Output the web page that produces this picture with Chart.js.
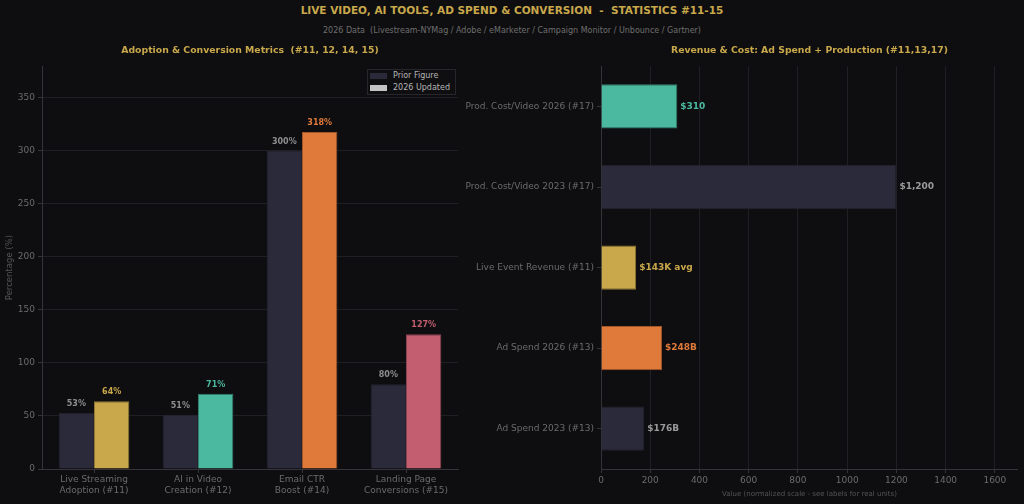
<!DOCTYPE html>
<html>
<head>
<meta charset="utf-8">
<script src="https://cdn.jsdelivr.net/npm/chart.js@4.4.1/dist/chart.umd.min.js"></script>
<style>
  html, body { margin: 0; padding: 0; background: #0e0e10; }
  body { width: 1024px; height: 504px; position: relative; overflow: hidden; font-family: "DejaVu Sans", sans-serif; }
  .title { position: absolute; left: 0; width: 1024px; text-align: center; }
  #mainTitle { top: 4px; color: #c8a84b; font-weight: bold; font-size: 10.5px; }
  #subTitle { top: 26px; color: #6e6e6e; font-size: 8px; }
  .box { position: absolute; top: 40px; height: 464px; }
  #leftBox { left: 0; width: 462px; }
  #rightBox { left: 465px; width: 553px; }
  #legend { position: absolute; left: 367px; top: 69px; width: 87px; height: 24px; padding: 0; border: 1px solid #26262c; background: #0f0f12; font-size: 8px; color: #b5b5b5; }
  #legend div { height: 12px; line-height: 12px; white-space: nowrap; }
  #legend span { display: inline-block; width: 17px; height: 6px; margin: 0 6px 0 2px; vertical-align: middle; }
</style>
</head>
<body>
<div class="title" id="mainTitle">LIVE VIDEO, AI TOOLS, AD SPEND &amp; CONVERSION &nbsp;- &nbsp;STATISTICS #11-15</div>
<div class="title" id="subTitle">2026 Data &nbsp;(Livestream-NYMag / Adobe / eMarketer / Campaign Monitor / Unbounce / Gartner)</div>
<div class="box" id="leftBox"><canvas id="leftChart"></canvas></div>
<div class="box" id="rightBox"><canvas id="rightChart"></canvas></div>
<div id="legend">
  <div><span style="background:#2b2a3a"></span>Prior Figure</div>
  <div><span style="background:#c4c4c4"></span>2026 Updated</div>
</div>
<script>
// left panel data
const leftCategories = [['Live Streaming', 'Adoption (#11)'], ['AI in Video', 'Creation (#12)'], ['Email CTR', 'Boost (#14)'], ['Landing Page', 'Conversions (#15)']];
const priorValues = [53, 51, 300, 80];
const updatedValues = [64, 71, 318, 127];
const updatedColors = ['#c8a84b', '#4bb9a0', '#e07a3b', '#c25e6f'];
const updatedBorders = ['#8f7836', '#357f6f', '#a0572a', '#8a4350'];
const leftTickValues = [0, 50, 100, 150, 200, 250, 300, 350];

// right panel data
const rightCategories = ['Prod. Cost/Video 2026 (#17)', 'Prod. Cost/Video 2023 (#17)', 'Live Event Revenue (#11)', 'Ad Spend 2026 (#13)', 'Ad Spend 2023 (#13)'];
const rightValues = [310, 1200, 143, 248, 176];
const rightLabels = ['$310', '$1,200', '$143K avg', '$248B', '$176B'];
const rightColors = ['#4bb9a0', '#2b2a3a', '#c8a84b', '#e07a3b', '#2b2a3a'];
const rightBorders = ['#357f6f', '#24232f', '#8f7836', '#a0572a', '#24232f'];
const rightLabelColors = ['#4bb9a0', '#9a9a9a', '#c8a84b', '#e07a3b', '#9a9a9a'];
const rightTickValues = [0, 200, 400, 600, 800, 1000, 1200, 1400, 1600];

const priorColor = '#2b2a3a';
const gridColor = '#1f1f25';
const spineColor = '#34343a';
const tickColor = '#6b6b6b';
const gold = '#c8a84b';

Chart.defaults.font.family = '"DejaVu Sans", sans-serif';
Chart.defaults.animation = false;

const leftLabels = {
  id: 'leftLabels',
  afterDatasetsDraw(chart) {
    const ctx = chart.ctx;
    ctx.save();
    ctx.font = 'bold 8px "DejaVu Sans"';
    ctx.textAlign = 'center';
    ctx.textBaseline = 'bottom';
    chart.data.datasets.forEach((ds, di) => {
      chart.getDatasetMeta(di).data.forEach((bar, i) => {
        ctx.fillStyle = di === 0 ? '#8e8e8e' : updatedColors[i];
        ctx.fillText(ds.data[i] + '%', bar.x, bar.y - 5);
      });
    });
    ctx.restore();
  }
};

const rightValueLabels = {
  id: 'rightValueLabels',
  afterDatasetsDraw(chart) {
    const ctx = chart.ctx;
    ctx.save();
    ctx.font = 'bold 9px "DejaVu Sans"';
    ctx.textAlign = 'left';
    ctx.textBaseline = 'middle';
    chart.getDatasetMeta(0).data.forEach((bar, i) => {
      ctx.fillStyle = rightLabelColors[i];
      ctx.fillText(rightLabels[i], bar.x + 3, bar.y);
    });
    ctx.restore();
  }
};

new Chart(document.getElementById('leftChart'), {
  type: 'bar',
  data: {
    labels: leftCategories,
    datasets: [
      {
        label: 'Prior Figure',
        data: priorValues,
        backgroundColor: priorColor,
        borderColor: '#24232f',
        borderWidth: 1,
        categoryPercentage: 0.68,
        barPercentage: 1,
      },
      {
        label: '2026 Updated',
        data: updatedValues,
        backgroundColor: updatedColors,
        borderColor: updatedBorders,
        borderWidth: 1,
        categoryPercentage: 0.68,
        barPercentage: 1,
      },
    ],
  },
  options: {
    responsive: true,
    maintainAspectRatio: false,
    layout: { padding: { right: 4 } },
    plugins: {
      legend: { display: false },
      tooltip: { enabled: false },
      title: {
        display: true,
        fullSize: false,
        text: 'Adoption & Conversion Metrics  (#11, 12, 14, 15)',
        color: gold,
        font: { size: 9.3, weight: 'bold' },
        padding: { top: 5, bottom: 10 },
      },
    },
    scales: {
      x: {
        grid: { display: true, drawOnChartArea: false, offset: false, tickColor: spineColor, tickLength: 4 },
        border: { color: spineColor },
        ticks: { color: tickColor, font: { size: 9 }, maxRotation: 0, padding: 1 },
        afterFit: (s) => { s.height = 35; },
      },
      y: {
        min: 0,
        max: 380,
        ticks: { color: tickColor, font: { size: 9 }, padding: 3 },
        grid: { color: gridColor, tickColor: spineColor, tickLength: 4 },
        border: { color: spineColor },
        title: { display: true, text: 'Percentage (%)', color: '#555', font: { size: 8.5 }, padding: { top: 5, bottom: 0 } },
        afterBuildTicks: (axis) => { axis.ticks = leftTickValues.map((v) => ({ value: v })); },
        afterFit: (s) => { s.width = 42; },
      },
    },
  },
  plugins: [leftLabels],
});

new Chart(document.getElementById('rightChart'), {
  type: 'bar',
  data: {
    labels: rightCategories,
    datasets: [
      {
        label: 'Value',
        data: rightValues,
        backgroundColor: rightColors,
        borderColor: rightBorders,
        borderWidth: 1,
        categoryPercentage: 0.55,
        barPercentage: 1,
      },
    ],
  },
  options: {
    indexAxis: 'y',
    responsive: true,
    maintainAspectRatio: false,
    layout: { padding: { bottom: 5 } },
    plugins: {
      legend: { display: false },
      tooltip: { enabled: false },
      title: {
        display: true,
        fullSize: false,
        text: 'Revenue & Cost: Ad Spend + Production (#11,13,17)',
        color: gold,
        font: { size: 9.3, weight: 'bold' },
        padding: { top: 5, bottom: 10 },
      },
    },
    scales: {
      x: {
        min: 0,
        max: 1694,
        ticks: { color: tickColor, font: { size: 9 }, padding: 2, callback: (v) => String(v) },
        grid: { color: gridColor, tickColor: spineColor, tickLength: 4 },
        border: { color: spineColor },
        title: { display: true, text: 'Value (normalized scale - see labels for real units)', color: '#555', font: { size: 7 }, padding: 1 },
        afterBuildTicks: (axis) => { axis.ticks = rightTickValues.map((v) => ({ value: v })); },
        afterFit: (s) => { s.height = 30; },
      },
      y: {
        grid: { display: true, drawOnChartArea: false, offset: false, tickColor: spineColor, tickLength: 4 },
        border: { color: spineColor },
        ticks: { color: tickColor, font: { size: 9 }, padding: 3 },
        afterFit: (s) => { s.width = 136; },
      },
    },
  },
  plugins: [rightValueLabels],
});
</script>
</body>
</html>
